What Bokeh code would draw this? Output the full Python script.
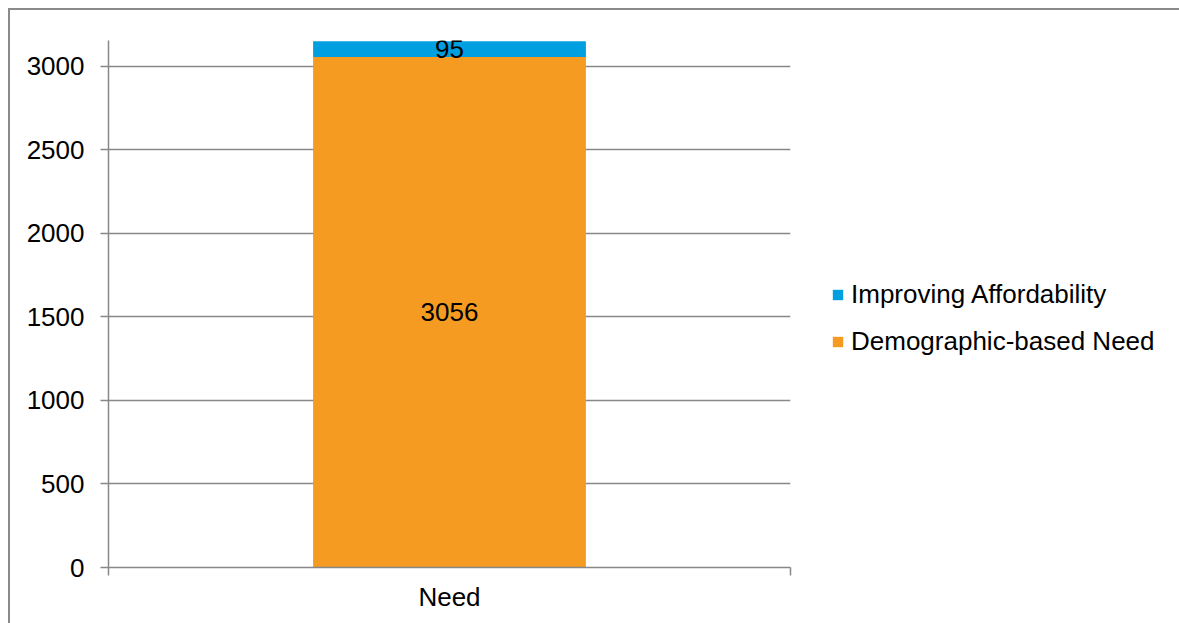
from bokeh.plotting import figure
from bokeh.models import (FactorRange, Range1d, LinearAxis, CategoricalAxis, FixedTicker,
                          Legend, LegendItem, ColumnDataSource, SingleIntervalTicker)
from bokeh.core.properties import value
from bokeh.embed import file_html
from bokeh.resources import INLINE

categories = ["Need"]
demographic = [3056]
affordability = [95]
series_names = ["Demographic-based Need", "Improving Affordability"]

ORANGE = "#F59B22"
BLUE = "#009FDF"
GRAY = "#888888"
FONT = "Liberation Sans"

source = ColumnDataSource(dict(cat=categories, demo=demographic, afford=affordability))

p = figure(x_range=FactorRange(factors=categories, range_padding=0),
           y_range=Range1d(0, 3155),
           frame_width=682, frame_height=527,
           min_border_left=98, min_border_top=30, min_border_right=389, min_border_bottom=56,
           output_backend="svg", toolbar_location=None, x_axis_location=None)
p.styles = {"border-left": "2px solid #8a8a8a", "border-top": "2px solid #8a8a8a",
            "margin-left": "8px", "margin-top": "8px"}
p.outline_line_color = None
p.xgrid.visible = False
p.ygrid.grid_line_color = GRAY
p.ygrid.grid_line_width = 1.5

renderers = p.vbar_stack(["demo", "afford"], x="cat", width=0.4, color=[ORANGE, BLUE],
                         line_color=None, source=source)

# value labels
lab = ColumnDataSource(dict(
    x=categories * 2,
    y=[d / 2 for d in demographic] + [d + a / 2 for d, a in zip(demographic, affordability)],
    t=[str(d) for d in demographic] + [str(a) for a in affordability],
))
p.text(x="x", y="y", text="t", source=lab, text_align="center", text_baseline="middle",
       text_font=value(FONT), text_font_size="26px", text_color="black")

# y axis
yax = p.yaxis[0]
yax.ticker = SingleIntervalTicker(interval=500)
yax.axis_line_color = GRAY
yax.axis_line_width = 1.5
yax.major_tick_line_color = GRAY
yax.major_tick_line_width = 1.5
yax.major_tick_out = 8
yax.major_tick_in = 0
yax.minor_tick_line_color = None
yax.major_label_text_font = FONT
yax.major_label_text_font_size = "26px"
yax.major_label_text_color = "black"
yax.major_label_standoff = 16

# x axis: edge ticks at category boundaries (synthetic coords 0 and 1) + category label axis
edge = LinearAxis(ticker=FixedTicker(ticks=[0, len(categories)]),
                  major_label_overrides={0: "", len(categories): ""})
edge.axis_line_color = GRAY
edge.axis_line_width = 1.5
edge.major_tick_line_color = GRAY
edge.major_tick_line_width = 1.5
edge.major_tick_out = 8
edge.major_tick_in = 0
edge.minor_tick_line_color = None
edge.major_label_standoff = 0
edge.major_label_text_font_size = "1px"
p.add_layout(edge, "below")

cax = CategoricalAxis()
cax.axis_line_color = None
cax.major_tick_line_color = None
cax.minor_tick_line_color = None
cax.major_label_text_font = FONT
cax.major_label_text_font_size = "26px"
cax.major_label_text_color = "black"
cax.major_label_standoff = 0
p.add_layout(cax, "below")

legend = Legend(items=[
    LegendItem(label=series_names[1], renderers=[renderers[1]]),
    LegendItem(label=series_names[0], renderers=[renderers[0]]),
], location=(41, 210), glyph_width=13, glyph_height=13, label_standoff=7,
    label_text_font=FONT, label_text_font_size="26px", label_text_color="black",
    label_height=30, spacing=16, padding=0, margin=0,
    border_line_color=None, background_fill_alpha=0)
p.add_layout(legend, "right")

open("out.html", "w").write(file_html(p, INLINE))
